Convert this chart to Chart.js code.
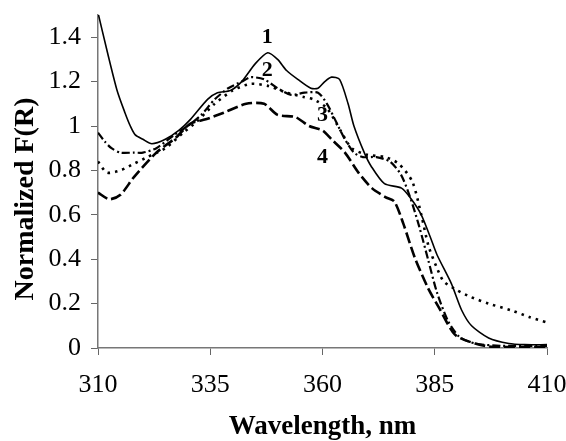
<!DOCTYPE html>
<html>
<head>
<meta charset="utf-8">
<script src="https://cdn.jsdelivr.net/npm/chart.js@4/dist/chart.umd.min.js"></script>
<style>
  html, body { margin: 0; padding: 0; background: #fff; }
  #wrap { width: 566px; height: 441px; }
</style>
</head>
<body>
<div id="wrap"><canvas id="chart" width="566" height="441"></canvas></div>
<script>
// wavelength (nm) and normalized F(R) for each curve
const wl1 = [310, 312, 314.25, 316, 317.2, 318.3, 320, 322, 325, 328, 330.6, 334.4, 336.6, 339.5, 342, 345, 347.8, 350, 352, 354.5, 357.4, 359, 360.5, 362, 363.8, 365.7, 367, 369.3, 370.8, 373.8, 377.6, 379.8, 382, 384, 385.5, 388.7, 391, 393.2, 397, 401.5, 405, 410];
const fr1 = [1.51, 1.34, 1.16, 1.06, 1.0, 0.96, 0.94, 0.92, 0.94, 0.98, 1.03, 1.12, 1.15, 1.16, 1.2, 1.28, 1.33, 1.3, 1.25, 1.21, 1.17, 1.17, 1.2, 1.22, 1.21, 1.1, 1.0, 0.88, 0.82, 0.74, 0.72, 0.67, 0.6, 0.5, 0.42, 0.29, 0.17, 0.1, 0.045, 0.02, 0.015, 0.015];

const wl2 = [310, 311.5, 313, 315, 318, 320, 323, 327, 330, 333, 336, 339, 342, 344, 347, 350, 353, 356, 359, 361, 363, 365, 367, 369, 372, 375, 377.5, 379.5, 381.5, 383.5, 385.5, 388, 390.5, 394, 400, 410];
const fr2 = [0.97, 0.93, 0.9, 0.88, 0.88, 0.88, 0.9, 0.96, 1.0, 1.05, 1.12, 1.17, 1.2, 1.22, 1.21, 1.17, 1.14, 1.15, 1.15, 1.1, 1.02, 0.94, 0.88, 0.86, 0.86, 0.84, 0.78, 0.68, 0.55, 0.4, 0.25, 0.12, 0.05, 0.02, 0.01, 0.01];

const wl3 = [310, 312, 315, 318, 321, 325, 329, 332, 336, 340, 344, 348, 352, 356, 358, 361, 364, 366.5, 370, 374, 377, 380, 382, 383.6, 385.5, 387, 390, 393, 397, 402, 406, 410];
const fr3 = [0.84, 0.79, 0.8, 0.83, 0.86, 0.9, 0.97, 1.02, 1.1, 1.16, 1.19, 1.18, 1.15, 1.13, 1.12, 1.08, 0.98, 0.9, 0.87, 0.86, 0.83, 0.75, 0.6, 0.46, 0.36, 0.3, 0.26, 0.23, 0.2, 0.17, 0.14, 0.115];

const wl4 = [310, 312.5, 315, 318, 323, 327.5, 330.5, 334, 338, 343, 347, 350, 354, 357, 360, 362, 365, 368, 371, 374, 376, 378, 380.5, 383.5, 386, 389.5, 394, 398, 410];
const fr4 = [0.70, 0.67, 0.69, 0.77, 0.88, 0.95, 1.01, 1.03, 1.06, 1.1, 1.1, 1.05, 1.04, 1.0, 0.98, 0.94, 0.88, 0.79, 0.72, 0.68, 0.66, 0.56, 0.41, 0.27, 0.18, 0.06, 0.02, 0.005, 0.005];

// curve numbers placed next to the curves (in data units)
const curveNames = ['1', '2', '3', '4'];
const nameX = [347.7, 347.7, 360, 360];
const nameY = [1.40, 1.25, 1.05, 0.86];

const xTicks = [310, 335, 360, 385, 410];
const yTicks = [0, 0.2, 0.4, 0.6, 0.8, 1, 1.2, 1.4];

const serif = "'Liberation Serif', 'DejaVu Serif', serif";

function pts(xs, ys) {
    return xs.map((x, i) => ({ x: x, y: ys[i] }));
}

// draws the rotated y title and the curve numbers
const extraText = {
    id: 'extraText',
    afterDraw(chart) {
        const ctx = chart.ctx;
        const xs = chart.scales.x, ys = chart.scales.y;
        ctx.save();
        ctx.fillStyle = '#000';
        ctx.font = 'bold 22px ' + serif;
        ctx.textAlign = 'center';
        ctx.textBaseline = 'middle';
        curveNames.forEach((n, i) => {
            ctx.fillText(n, xs.getPixelForValue(nameX[i]), ys.getPixelForValue(nameY[i]));
        });
        ctx.font = 'bold 28px ' + serif;
        ctx.translate(26, 199);
        ctx.rotate(-Math.PI / 2);
        ctx.fillText('Normalized F(R)', 0, 0);
        ctx.restore();
    }
};

const ctx = document.getElementById('chart').getContext('2d');
new Chart(ctx, {
    type: 'line',
    data: {
        datasets: [
            { data: pts(wl1, fr1), borderColor: '#000', borderWidth: 1.6, borderDash: [] },
            { data: pts(wl2, fr2), borderColor: '#000', borderWidth: 2.2, borderDash: [8, 3, 2, 3] },
            { data: pts(wl3, fr3), borderColor: '#000', borderWidth: 2.6, borderDash: [2.5, 5] },
            { data: pts(wl4, fr4), borderColor: '#000', borderWidth: 2.6, borderDash: [11, 4] }
        ]
    },
    options: {
        responsive: false,
        animation: false,
        layout: { padding: { top: 15, right: 19, left: 0, bottom: 0 } },
        elements: {
            point: { radius: 0 },
            line: { tension: 0.25, fill: false }
        },
        plugins: {
            legend: { display: false },
            tooltip: { enabled: false }
        },
        scales: {
            x: {
                type: 'linear',
                min: 310,
                max: 410,
                afterBuildTicks: s => { s.ticks = xTicks.map(v => ({ value: v })); },
                afterFit: s => { s.height = 93; s.paddingLeft = 0; s.paddingRight = 0; },
                ticks: {
                    color: '#000',
                    font: { family: serif, size: 26 },
                    padding: 15,
                    maxRotation: 0,
                    callback: v => String(v)
                },
                grid: { drawOnChartArea: false, tickLength: 7, tickColor: '#666' },
                border: { color: '#777', width: 1.5 },
                title: {
                    display: true,
                    text: 'Wavelength, nm',
                    color: '#000',
                    font: { family: serif, size: 27, weight: 'bold', lineHeight: 1.0 },
                    padding: { top: 0, bottom: 0 }
                }
            },
            y: {
                min: 0,
                max: 1.5,
                afterBuildTicks: s => { s.ticks = yTicks.map(v => ({ value: v })); },
                afterFit: s => { s.width = 98; s.paddingTop = 0; s.paddingBottom = 0; },
                ticks: {
                    color: '#000',
                    font: { family: serif, size: 26 },
                    padding: 10,
                    callback: v => String(v)
                },
                grid: { drawOnChartArea: false, tickLength: 7, tickColor: '#666' },
                border: { color: '#777', width: 1.5 }
            }
        }
    },
    plugins: [extraText]
});
</script>
</body>
</html>
